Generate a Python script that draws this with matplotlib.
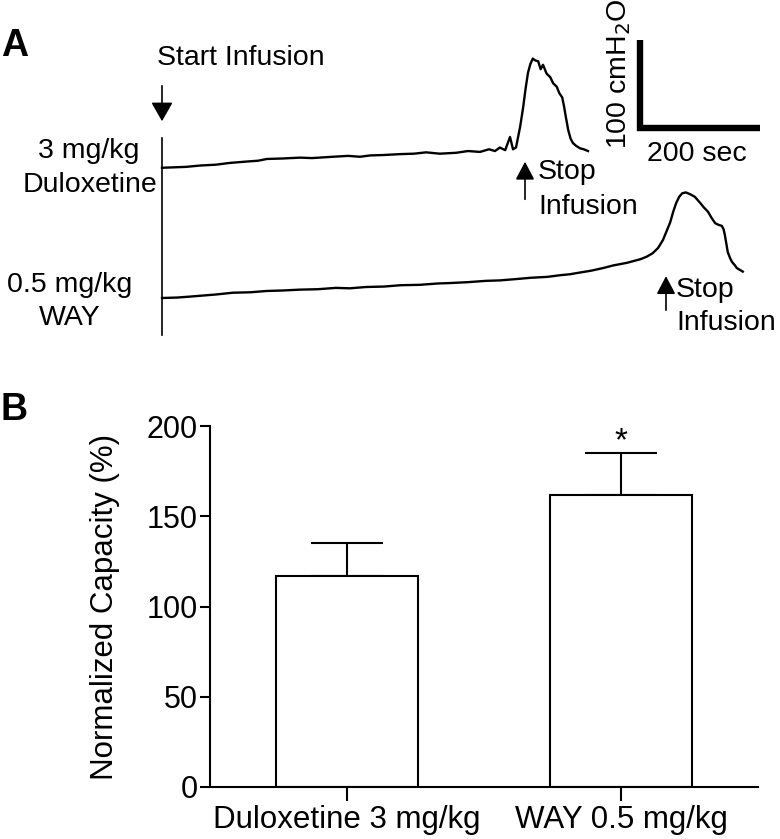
#!/usr/bin/env python3
# Cystometry traces (A) and normalized bladder capacity bars (B)

import matplotlib
matplotlib.use("Agg")
import matplotlib.pyplot as plt

plt.rcParams["font.family"] = ["Liberation Sans", "DejaVu Sans"]

# --- panel A: pressure traces (time in sec, pressure in cmH2O) ---
dulox_t = [0, 20, 40, 63, 90, 113, 140, 160, 175, 200, 230, 250, 285, 310, 330,
           347, 370, 397, 420, 440, 463, 490, 510, 530, 545, 555, 563, 572, 580,
           585, 590, 597, 602, 606, 610, 614, 618, 622, 627, 631, 635, 641, 647,
           652, 658, 662, 667, 670, 673, 677, 681, 685, 690, 697, 703, 710]
dulox_p = [10, 10.5, 11, 12.5, 13.5, 15.5, 17, 18, 20, 20.5, 21.5, 21, 22.5, 23.5, 22.5,
           24, 24.5, 25.5, 26, 27.5, 26, 27, 29, 28, 31, 29, 33, 30, 45,
           31, 33, 57, 79, 100, 118, 128, 134, 132, 131, 122, 127, 117, 113,
           106, 102, 95, 90, 80, 68, 53, 43, 38, 35, 32, 31, 29]

way_t = [0, 25, 45, 63, 90, 118, 147, 175, 200, 230, 260, 290, 313, 340, 370,
         397, 430, 460, 480, 510, 540, 563, 590, 615, 642, 665, 680, 697, 715,
         735, 752, 775, 797, 808, 818, 827, 835, 841, 847, 852, 857, 862, 867,
         873, 880, 888, 897, 903, 910, 916, 922, 928, 933, 936, 938, 941, 943,
         947, 950, 955, 958, 963, 968]
way_p = [10, 10.5, 11.5, 12.5, 14, 16, 16.5, 18, 18.5, 19.5, 20, 21.5, 21, 22.5, 23,
         24.5, 25, 26.5, 27, 28, 29.5, 30, 31.5, 33, 34, 36, 37, 39, 41,
         44, 47, 50, 54, 57, 61, 67, 76, 86, 96, 108, 118, 125, 129,
         130, 128, 125, 118, 113, 108, 101, 95, 93, 92, 88, 82, 70, 62,
         55, 51, 47, 44, 42, 40]

stop_t = [605, 840]           # stop infusion times for the two traces
scale_sec = 200
scale_cmh2o = 100

# --- panel B: normalized capacity ---
groups = ["Duloxetine 3 mg/kg", "WAY 0.5 mg/kg"]
capacity = [117, 162]
capacity_sem = [18, 23]

W, H = 780, 839
fig = plt.figure(figsize=(W / 100, H / 100), dpi=100)

# trace axes: 0.6 px per sec, 0.88 px per cmH2O, covering the top 340 px
axA = fig.add_axes([0, 1 - 340 / H, 1, 340 / H])
axA.set_xlim(-162 / 0.6, (W - 162) / 0.6)
axA.set_ylim(10 - 42 / 0.88, 10 + 298 / 0.88)
axA.axis("off")

offset = 148  # vertical separation of the two traces (cmH2O)
axA.plot(dulox_t, [p + offset for p in dulox_p], color="black", lw=1.7)
axA.plot(way_t, way_p, color="black", lw=1.7)
axA.plot([0, 0], [-32, 192], color="black", lw=1.2)

# start arrow
axA.annotate("", xy=(0, 10 + (298 - 124) / 0.88), xytext=(0, 10 + (298 - 83) / 0.88),
             arrowprops=dict(arrowstyle="-|>,head_length=0.58,head_width=0.33",
                             mutation_scale=20, color="black", lw=1.2))
# stop arrows
for t, tip, tail in zip(stop_t, [168, 38], [119, -7]):
    axA.annotate("", xy=(t, tip), xytext=(t, tail),
                 arrowprops=dict(arrowstyle="-|>,head_length=0.55,head_width=0.29",
                                 mutation_scale=20, color="black", lw=1.2))

# scale bar
c_t, c_p = 797, 203
axA.plot([c_t, c_t, c_t + scale_sec], [c_p + scale_cmh2o, c_p, c_p],
         color="black", lw=4.6, solid_joinstyle="miter", solid_capstyle="butt")

# overlay in pixel coordinates for labels
ov = fig.add_axes([0, 0, 1, 1], zorder=-1)
ov.set_xlim(0, W)
ov.set_ylim(H, 0)
ov.axis("off")
fs = 20.5
ov.text(15, 46, "A", fontsize=27, fontweight="bold", ha="center", va="center")
ov.text(14, 410, "B", fontsize=27, fontweight="bold", ha="center", va="center")
ov.text(157, 58, "Start Infusion", fontsize=fs, ha="left", va="center")
ov.text(89, 151, "3 mg/kg", fontsize=fs, ha="center", va="center")
ov.text(90, 185, "Duloxetine", fontsize=fs, ha="center", va="center")
ov.text(70, 285, "0.5 mg/kg", fontsize=fs, ha="center", va="center")
ov.text(70, 318, "WAY", fontsize=fs, ha="center", va="center")
ov.text(538, 172, "Stop", fontsize=fs, ha="left", va="center")
ov.text(538, 207, "Infusion", fontsize=fs, ha="left", va="center")
ov.text(676, 290, "Stop", fontsize=fs, ha="left", va="center")
ov.text(676, 323, "Infusion", fontsize=fs, ha="left", va="center")
ov.text(619, 74, "100 cmH$_2$O", fontsize=fs, ha="center", va="center", rotation=90)
ov.text(697, 154, "200 sec", fontsize=fs, ha="center", va="center")

# bar chart
axB = fig.add_axes([210 / W, (H - 787) / H, 548 / W, 361 / H])
x = range(len(groups))
axB.bar(x, capacity, width=0.52, color="white", edgecolor="black", lw=1.5, zorder=2)
axB.errorbar(x, capacity, yerr=[[0] * len(groups), capacity_sem], fmt="none",
             ecolor="black", elinewidth=1.5, capsize=26, capthick=1.5, zorder=1)
axB.text(1, 191, "*", fontsize=24, ha="center", va="center")
axB.set_xlim(-0.5, 1.5)
axB.set_ylim(0, 200)
axB.set_yticks([0, 50, 100, 150, 200])
axB.set_xticks(list(x))
axB.set_xticklabels(groups)
axB.set_ylabel("Normalized Capacity (%)", fontsize=22.5, labelpad=19)
axB.spines["top"].set_visible(False)
axB.spines["right"].set_visible(False)
for s in ("left", "bottom"):
    axB.spines[s].set_linewidth(1.5)
axB.tick_params(axis="y", direction="out", length=7, width=1.5, labelsize=22, pad=2)
axB.tick_params(axis="x", direction="out", length=10, width=1.5, labelsize=22.5, pad=3)

fig.savefig("out.png", dpi=100)
print("saved out.png")
